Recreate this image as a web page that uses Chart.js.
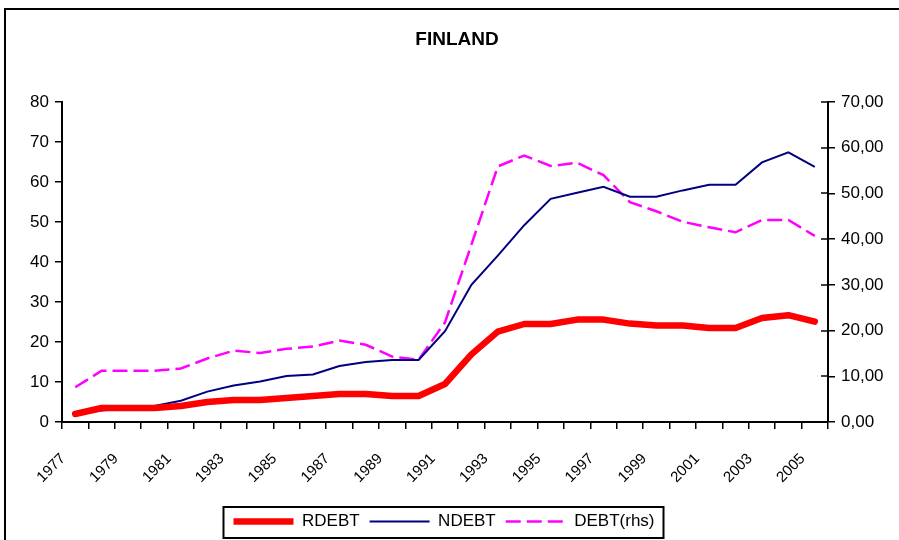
<!DOCTYPE html>
<html>
<head>
<meta charset="utf-8">
<script src="https://cdn.jsdelivr.net/npm/chart.js@4.4.1/dist/chart.umd.min.js"></script>
<style>
  html, body { margin: 0; padding: 0; background: #fff; }
  #wrap { width: 899px; height: 540px; }
</style>
</head>
<body>
<div id="wrap"><canvas id="c" width="899" height="540"></canvas></div>
<script>
const years = [1977,1978,1979,1980,1981,1982,1983,1984,1985,1986,1987,1988,1989,1990,1991,1992,1993,1994,1995,1996,1997,1998,1999,2000,2001,2002,2003,2004,2005];
const rdebt = [2.0,3.5,3.5,3.5,4.0,5.0,5.5,5.5,6.0,6.5,7.0,7.0,6.5,6.5,9.5,16.9,22.6,24.5,24.5,25.6,25.6,24.6,24.1,24.1,23.5,23.5,26.0,26.7,25.1];
const ndebt = [1.9,2.9,3.4,4.0,5.3,7.6,9.1,10.1,11.5,11.9,14.0,15.0,15.5,15.5,22.7,34.3,41.6,49.2,55.8,57.3,58.8,56.3,56.3,57.9,59.3,59.3,64.9,67.4,63.8];
const debt  = [7.6,11.2,11.2,11.2,11.7,13.9,15.6,15.1,16.0,16.5,17.8,16.9,14.3,13.6,21.8,38.8,55.9,58.3,56.0,56.7,54.0,48.1,46.1,43.8,42.6,41.5,44.2,44.2,40.7];
const leftTicks = [0,10,20,30,40,50,60,70,80];
const rightTicks = [0,10,20,30,40,50,60,70];
const seriesNames = ['RDEBT','NDEBT','DEBT(rhs)'];
const chartTitle = 'FINLAND';

Chart.defaults.color = '#000';
Chart.defaults.font.family = '"Liberation Sans", Arial, sans-serif';

const framePlugin = {
  id: 'frame',
  beforeDraw(chart) {
    const ctx = chart.ctx;
    ctx.save();
    ctx.fillStyle = '#fff';
    ctx.fillRect(0, 0, chart.width, chart.height);
    ctx.strokeStyle = '#000';
    ctx.lineWidth = 2;
    ctx.strokeRect(5, 9, 1000, 1000);
    // title, centred on the outer frame
    ctx.fillStyle = '#000';
    ctx.font = 'bold 19px "Liberation Sans", Arial, sans-serif';
    ctx.textAlign = 'center';
    ctx.textBaseline = 'middle';
    ctx.fillText(chartTitle, 457, 40);
    ctx.restore();
  },
  afterDraw(chart) {
    const ctx = chart.ctx;
    ctx.save();
    // inner part of right-axis crossing ticks
    const s = chart.scales.y2;
    ctx.strokeStyle = '#000';
    ctx.lineWidth = 1.5;
    s.ticks.forEach(t => {
      const y = Math.round(s.getPixelForValue(t.value));
      ctx.beginPath();
      ctx.moveTo(s.left - 7, y);
      ctx.lineTo(s.left, y);
      ctx.stroke();
    });
    // legend frame
    const hb = chart.legend.legendHitBoxes;
    if (hb && hb.length) {
      const l = hb[0].left - 10;
      const last = hb[hb.length - 1];
      const r = last.left + last.width + 9;
      const top = hb[0].top - 6;
      const bot = hb[0].top + hb[0].height + 8;
      ctx.lineWidth = 2;
      ctx.strokeRect(l, top, r - l, bot - top);
    }
    ctx.restore();
  }
};

new Chart(document.getElementById('c'), {
  type: 'line',
  data: {
    labels: years,
    datasets: [
      { label: seriesNames[0], data: rdebt, yAxisID: 'y', borderColor: '#FF0000', backgroundColor: '#FF0000',
        borderWidth: 6.5, borderCapStyle: 'round', borderJoinStyle: 'round', pointRadius: 0, tension: 0 },
      { label: seriesNames[1], data: ndebt, yAxisID: 'y', borderColor: '#000080', backgroundColor: '#000080',
        borderWidth: 2, pointRadius: 0, tension: 0 },
      { label: seriesNames[2], data: debt, yAxisID: 'y2', borderColor: '#FF00FF', backgroundColor: '#FF00FF',
        borderWidth: 2.5, borderDash: [15, 6], pointRadius: 0, tension: 0 }
    ]
  },
  options: {
    responsive: false,
    animation: false,
    devicePixelRatio: 1,
    layout: { padding: { left: 0, right: 11, top: 102, bottom: 0 } },
    plugins: {
      title: { display: false },
      legend: {
        position: 'bottom',
        labels: {
          usePointStyle: true, pointStyle: 'line', pointStyleWidth: 60,
          font: { size: 17 }, padding: 10, color: '#000',
          generateLabels(chart) {
            const items = Chart.defaults.plugins.legend.labels.generateLabels(chart);
            items.forEach(it => {
              const ds = chart.data.datasets[it.datasetIndex];
              it.lineDash = ds.borderDash || [];
              it.lineWidth = ds.borderWidth;
              it.strokeStyle = ds.borderColor;
              it.lineCap = 'butt';
            });
            return items;
          }
        }
      },
      tooltip: { enabled: false }
    },
    scales: {
      x: {
        offset: true,
        grid: { display: true, drawOnChartArea: false, drawTicks: true, tickLength: 7, color: '#000', lineWidth: 1.5, offset: true },
        border: { display: true, color: '#000', width: 2 },
        ticks: {
          autoSkip: false, maxRotation: 45, minRotation: 45, padding: 21, labelOffset: -12,
          font: { size: 15 },
          callback: function(v, i) { return i % 2 === 0 ? String(years[i]) : ''; }
        },
        afterFit(scale) { scale.height = 81; }
      },
      y: {
        position: 'left', min: 0, max: 80,
        afterBuildTicks(scale) { scale.ticks = leftTicks.map(v => ({ value: v })); },
        grid: { display: true, drawOnChartArea: false, drawTicks: true, tickLength: 7, color: '#000', lineWidth: 1.5 },
        border: { display: true, color: '#000', width: 2 },
        ticks: { padding: 6, font: { size: 17 } },
        afterFit(scale) { scale.width = 62; }
      },
      y2: {
        position: 'right', min: 0, max: 70,
        afterBuildTicks(scale) { scale.ticks = rightTicks.map(v => ({ value: v })); },
        grid: { display: true, drawOnChartArea: false, drawTicks: true, tickLength: 7, color: '#000', lineWidth: 1.5 },
        border: { display: true, color: '#000', width: 2 },
        ticks: { padding: 6, font: { size: 17 }, callback: v => Number(v).toFixed(2).replace('.', ',') },
        afterFit(scale) { scale.width = 60; }
      }
    }
  },
  plugins: [framePlugin]
});
</script>
</body>
</html>
